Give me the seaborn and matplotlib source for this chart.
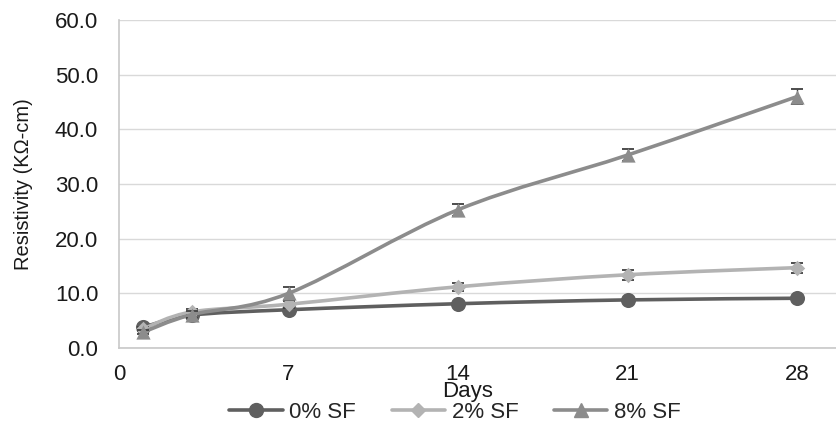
import numpy as np
import pandas as pd
import seaborn as sns
import matplotlib
matplotlib.use("Agg")
import matplotlib.pyplot as plt
from matplotlib.path import Path
from matplotlib.patches import PathPatch
from matplotlib.lines import Line2D

# Resistivity over curing age for three silica-fume contents
days = [1, 3, 7, 14, 21, 28]
mixes = ["0% SF", "2% SF", "8% SF"]
sf0 = [3.8, 6.0, 7.0, 8.1, 8.8, 9.1]
sf2 = [3.5, 6.6, 8.0, 11.2, 13.4, 14.7]
sf8 = [2.9, 6.1, 10.0, 25.3, 35.3, 46.0]
err0 = [0.3, 0.3, 0.3, 0.3, 0.3, 0.3]
err2 = [0.3, 0.5, 0.6, 0.7, 0.9, 0.9]
err8 = [0.4, 0.6, 1.2, 1.1, 1.1, 1.4]
x_ticks = [0, 7, 14, 21, 28]
y_ticks = [0, 10, 20, 30, 40, 50, 60]

colors = {"0% SF": "#5f5f5f", "2% SF": "#b3b3b3", "8% SF": "#8c8c8c"}
markers = {"0% SF": "o", "2% SF": "D", "8% SF": "^"}
msizes = {"0% SF": 118, "2% SF": 62, "8% SF": 105}
leg_msizes = {"0% SF": 10, "2% SF": 7, "8% SF": 10}

df = pd.DataFrame({
    "Day": days * 3,
    "Resistivity": sf0 + sf2 + sf8,
    "Error": err0 + err2 + err8,
    "Mix": [m for m in mixes for _ in days],
})

sns.set_theme(style="white")
plt.rcParams["font.family"] = ["Liberation Sans", "DejaVu Sans"]

fig = plt.figure(figsize=(8.36, 4.29), dpi=100)
ax = fig.add_axes([119 / 836, 81 / 429, 1 - 119 / 836, 328 / 429])


def smooth_path(xs, ys):
    """Cubic Bezier path through the points (Catmull-Rom style smoothing)."""
    p = np.column_stack([xs, ys]).astype(float)
    n = len(p)
    verts = [p[0]]
    codes = [Path.MOVETO]
    for i in range(n - 1):
        p_prev = p[i - 1] if i > 0 else p[i]
        p_next2 = p[i + 2] if i + 2 < n else p[i + 1]
        c1 = p[i] + (p[i + 1] - p_prev) / 6.0
        c2 = p[i + 1] - (p_next2 - p[i]) / 6.0
        verts += [c1, c2, p[i + 1]]
        codes += [Path.CURVE4] * 3
    return Path(verts, codes)


for k, mix in enumerate(mixes):
    sub = df[df["Mix"] == mix]
    z = 2 + k * 3
    ax.add_patch(PathPatch(smooth_path(sub["Day"], sub["Resistivity"]),
                           facecolor="none", edgecolor=colors[mix],
                           lw=2.6, zorder=z, capstyle="round"))
    ax.errorbar(sub["Day"], sub["Resistivity"], yerr=sub["Error"],
                fmt="none", ecolor="#3f3f3f", elinewidth=1.0,
                capsize=4, capthick=1.3, zorder=z + 1)
    sns.scatterplot(data=sub, x="Day", y="Resistivity", ax=ax,
                    color=colors[mix], marker=markers[mix], s=msizes[mix],
                    edgecolor=colors[mix], linewidth=0, zorder=z + 2,
                    legend=False)

ax.set_xlim(0, 29.6)
ax.set_ylim(0, 60)
ax.set_xticks(x_ticks)
ax.set_xticklabels([str(t) for t in x_ticks])
ax.set_yticks(y_ticks)
ax.set_yticklabels([f"{t:.1f}" for t in y_ticks])
ax.tick_params(axis="both", length=0, labelsize=16, colors="#1a1a1a")
ax.tick_params(axis="y", pad=15)
ax.tick_params(axis="x", pad=11.5)

ax.grid(axis="y", color="#d9d9d9", lw=1.0)
ax.set_axisbelow(True)
for side in ["top", "right"]:
    ax.spines[side].set_visible(False)
for side in ["left", "bottom"]:
    ax.spines[side].set_color("#c8c8c8")
    ax.spines[side].set_linewidth(1.2)

ax.set_ylabel("Resistivity (K\u03a9-cm)", fontsize=14.5, color="#1a1a1a")
ax.yaxis.set_label_coords((33 - 119) / 717, 0.5)
ax.set_xlabel("Days", fontsize=16, color="#1a1a1a")
ax.xaxis.set_label_coords((468 - 119) / 717, (348 - 381) / 328)

handles = [
    Line2D([], [], color=colors[m], lw=2.6, marker=markers[m],
           markersize=leg_msizes[m],
           markerfacecolor=colors[m], markeredgecolor=colors[m])
    for m in mixes
]
fig.legend(handles, mixes, loc="center", bbox_to_anchor=(455 / 836, 1 - 412 / 429),
           ncol=3, frameon=False, fontsize=16, handlelength=2.4,
           handletextpad=0.3, columnspacing=1.6, borderpad=0)

fig.savefig("out.png", dpi=100)
